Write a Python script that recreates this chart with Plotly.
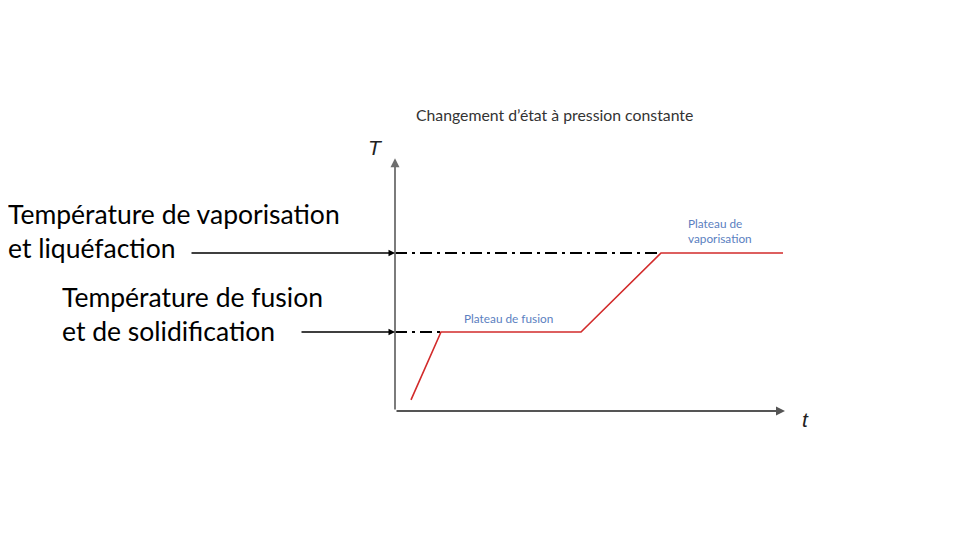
import plotly.graph_objects as go

# Heating curve (time in arbitrary units, temperature in °C)
t_curve = [1.6, 4.6, 18.6, 26.6, 38.8]
T_curve = [-86, 0, 0, 100, 100]

T_fusion = 0
T_vapor = 100
t_origin = 0
T_origin = -100
t_axis_end = 39.0
T_axis_end = 220

title_text = "Changement d’état à pression constante"
label_vapor = "Température de vaporisation<br>et liquéfaction"
label_fusion = "Température de fusion<br>et de solidification"
plateau_fusion = "Plateau de fusion"
plateau_vapor = "Plateau de<br>vaporisation"

# pixel mapping: 10 px per time unit, 0.79 px per °C (page body has 8px margin)
PX_T = 10.0
PX_Y = 0.79

def tx(px):
    return t_origin + (px - 395) / PX_T

def ty(py):
    return T_origin + (411 - py) / PX_Y

x_range = [tx(8), tx(968)]
y_range = [ty(548), ty(8)]

fig = go.Figure()

dd = "12px,5px,3px,5px"
# dash-dot guide lines
fig.add_trace(go.Scatter(x=[t_origin, t_curve[3]], y=[T_vapor, T_vapor], mode="lines",
                         line=dict(color="black", width=2, dash=dd), hoverinfo="skip"))
fig.add_trace(go.Scatter(x=[t_origin, t_curve[1]], y=[T_fusion, T_fusion], mode="lines",
                         line=dict(color="black", width=2, dash=dd), hoverinfo="skip"))
# red heating curve
fig.add_trace(go.Scatter(x=t_curve, y=T_curve, mode="lines",
                         line=dict(color="#d22b2b", width=1.6), hoverinfo="skip"))

ann = []
# axes with arrows
ann.append(dict(x=t_origin, y=T_axis_end, ax=t_origin, ay=T_origin, xref="x", yref="y",
                axref="x", ayref="y", showarrow=True, arrowhead=2, arrowsize=1,
                arrowwidth=1.8, arrowcolor="#6e6e6e", text=""))
ann.append(dict(x=t_axis_end, y=T_origin, ax=t_origin, ay=T_origin, xref="x", yref="y",
                axref="x", ayref="y", showarrow=True, arrowhead=2, arrowsize=1,
                arrowwidth=1.8, arrowcolor="#555555", text=""))
# label arrows
ann.append(dict(x=t_origin, y=T_vapor, ax=tx(190), ay=T_vapor, xref="x", yref="y",
                axref="x", ayref="y", showarrow=True, arrowhead=2, arrowsize=1,
                arrowwidth=1.3, arrowcolor="black", text=""))
ann.append(dict(x=t_origin, y=T_fusion, ax=tx(300), ay=T_fusion, xref="x", yref="y",
                axref="x", ayref="y", showarrow=True, arrowhead=2, arrowsize=1,
                arrowwidth=1.3, arrowcolor="black", text=""))

def text(px, py, s, size, color, italic=False, family="Lato"):
    # keep the anchor inside the axis range, shift in pixels otherwise
    xs = 0
    if px < 12:
        xs = px - 12
        px = 12
    d = dict(x=tx(px), y=ty(py), xref="x", yref="y", xshift=xs,
             text=(f"<i>{s}</i>" if italic else s),
             showarrow=False, xanchor="left", yanchor="middle", align="left",
             font=dict(size=size, color=color, family=family))
    ann.append(d)

text(414, 114, title_text, 15.8, "#333333")
text(366, 147, "T", 21, "#222222", italic=True, family="Liberation Sans")
text(800, 419, "t", 21, "#222222", italic=True, family="Liberation Sans")
text(462, 318, plateau_fusion, 11.8, "#5b7fbf")
text(686, 231, plateau_vapor, 11.8, "#5b7fbf")
text(6, 231, label_vapor, 26.5, "black")
text(60, 314, label_fusion, 26.5, "black")

fig.update_layout(
    width=960, height=540, margin=dict(l=0, r=0, t=0, b=0),
    paper_bgcolor="white", plot_bgcolor="white", showlegend=False,
    xaxis=dict(range=x_range, visible=False, fixedrange=True),
    yaxis=dict(range=y_range, visible=False, fixedrange=True),
    annotations=ann,
)

fig.write_html("out.html", config={"displayModeBar": False})
